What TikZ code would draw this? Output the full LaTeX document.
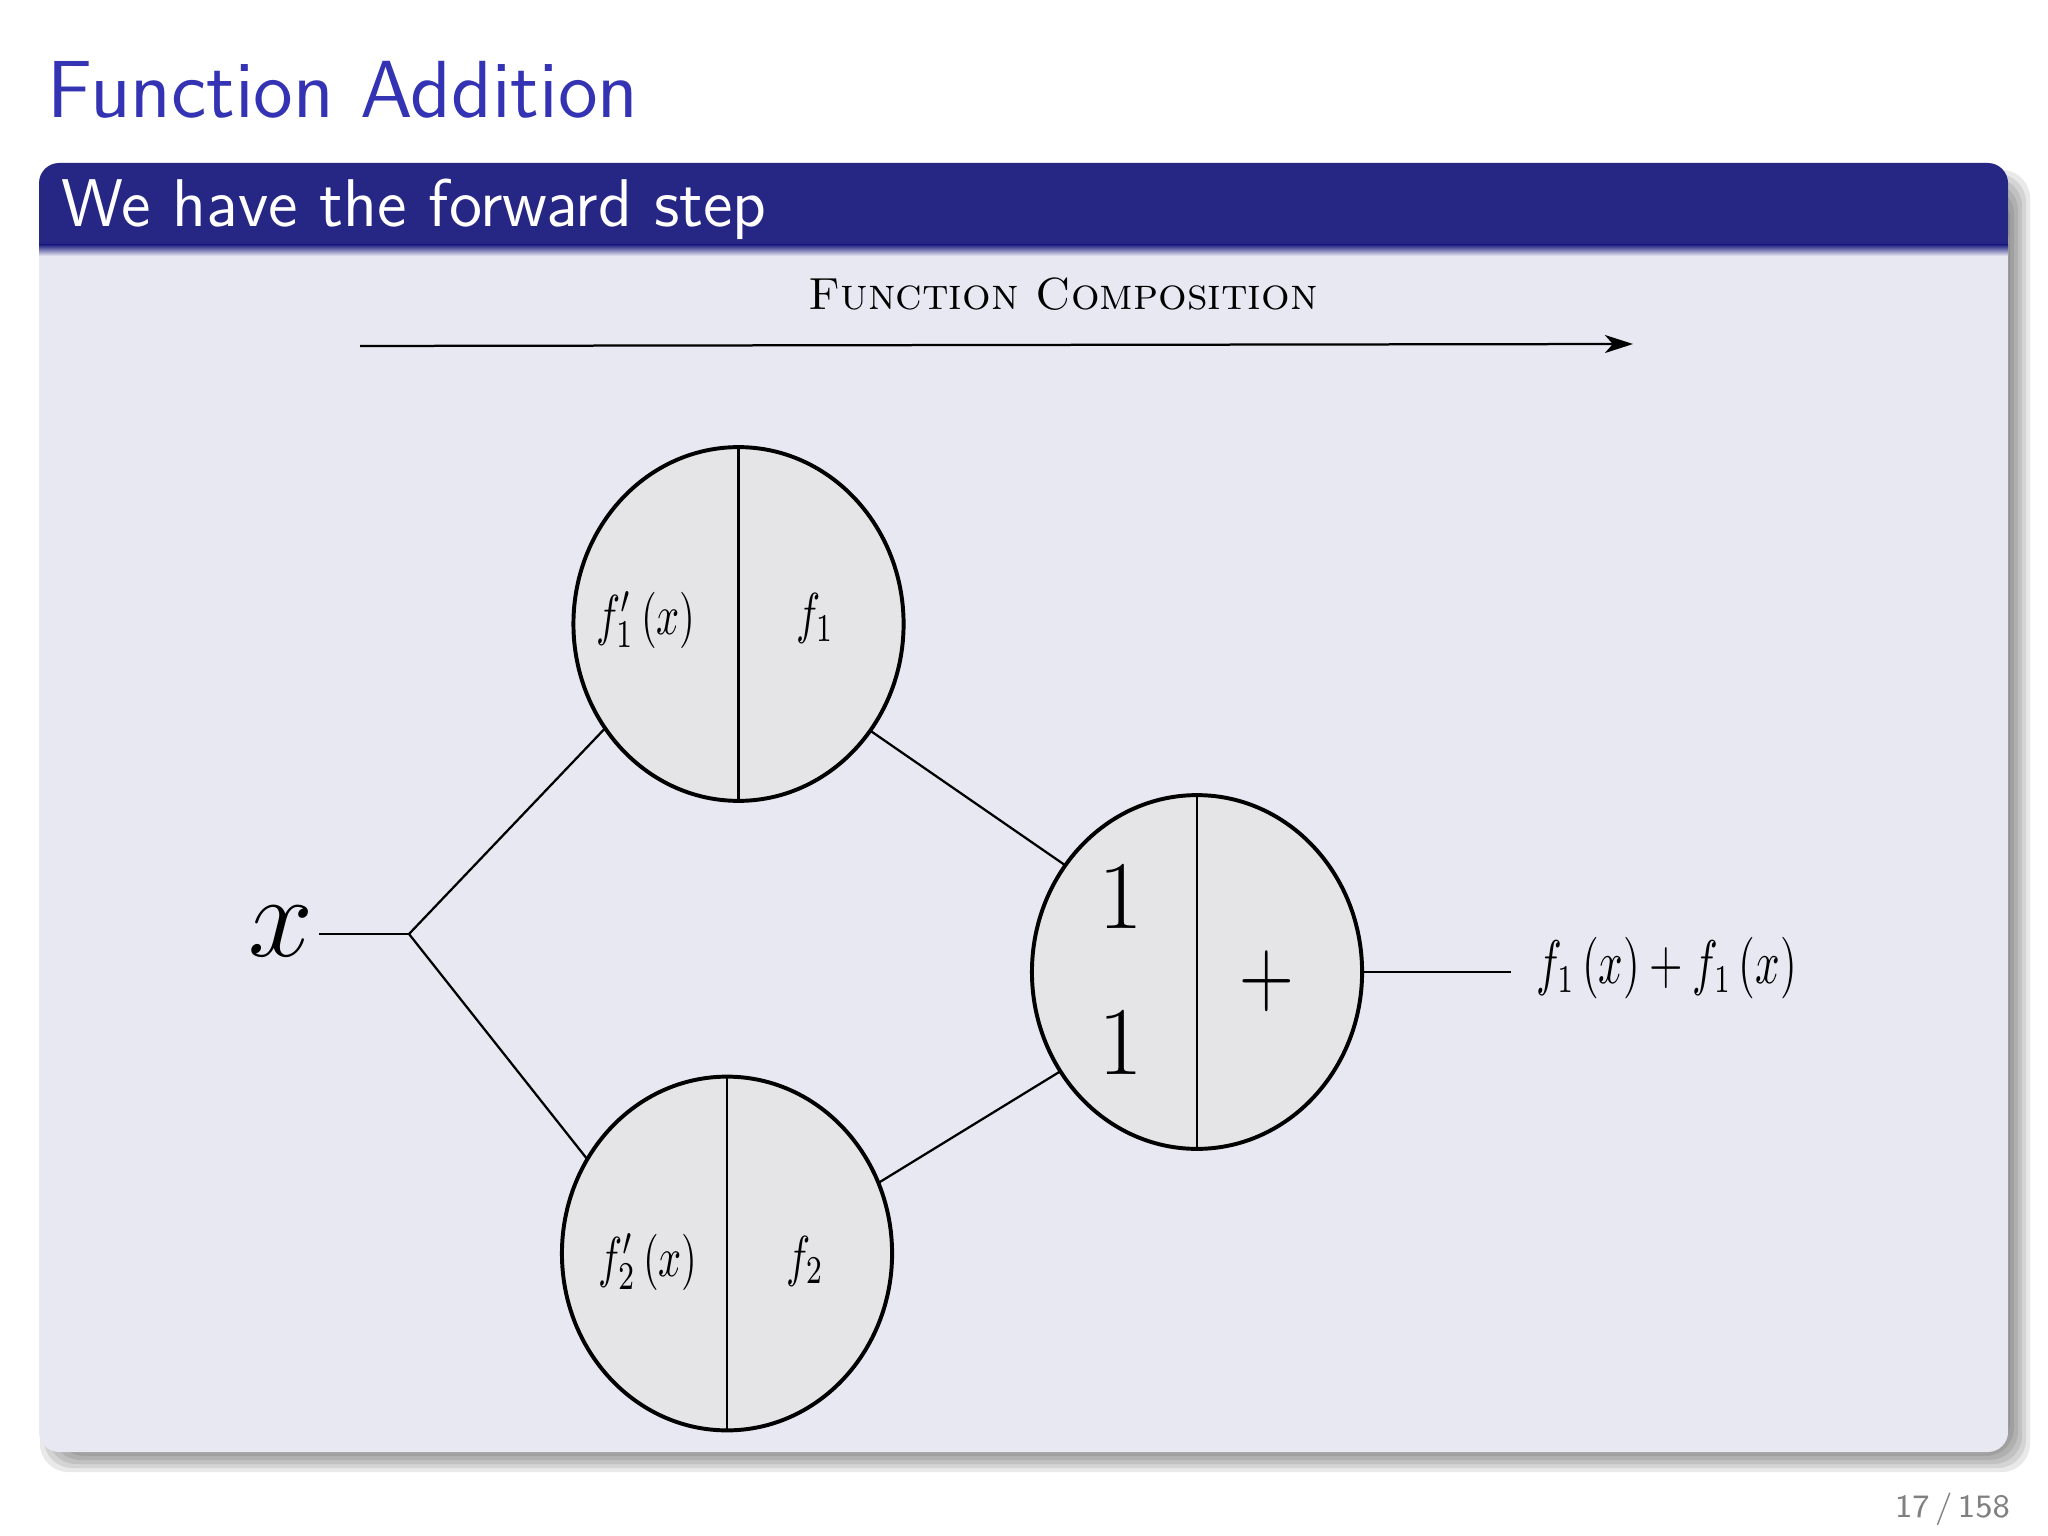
\documentclass[tikz,border=0pt]{standalone}
\usepackage{graphicx}
\usetikzlibrary{shapes.geometric,arrows.meta,calc}
\definecolor{titleblue}{RGB}{51,51,179}
\definecolor{hdrblue}{RGB}{38,38,133}
\definecolor{bodybg}{RGB}{232,232,242}
\definecolor{circfill}{RGB}{229,229,231}
\definecolor{pagegray}{RGB}{128,128,128}
\newcommand{\sqz}[2]{\scalebox{#1}[1]{#2}}
\begin{document}
\begin{tikzpicture}[x=0.1778pt,y=-0.1778pt,
  unit/.style={ellipse, draw=black, line width=0.7pt, fill=circfill,
    minimum width=58.7pt, minimum height=62.9pt, inner sep=0pt, outer sep=0pt},
  wire/.style={line width=0.4pt, black},
  divider/.style={line width=0.45pt, black},
  lbl/.style={inner sep=0pt, outer sep=0pt, anchor=base},
  smallmath/.style={font=\fontsize{10}{12}\selectfont},
  bigmath/.style={font=\fontsize{16}{19}\selectfont},
]
\useasboundingbox (0,0) rectangle (2048,1536);
\fill[white] (0,0) rectangle (2048,1536);

% frame title
\node[anchor=base west, inner sep=0pt, text=titleblue,
  font=\sffamily\fontsize{14.4}{17}\selectfont] (title) at (46,118) {Function Addition};

% block shadow
\foreach \r in {-12,-8,-4,0,4,8,12} {
  \fill[black, opacity=0.085, rounded corners=5pt]
    ({52-\r},{182-\r}) rectangle ({2018+\r},{1460+\r});
}
% block body and header
\fill[bodybg, rounded corners=3.6pt] (39,163) rectangle (2008,1452);
\fill[hdrblue, rounded corners=3.6pt] (39,163) rectangle (2008,256);
\fill[hdrblue] (39,200) rectangle (2008,245);
\shade[top color=hdrblue, bottom color=bodybg] (39,245) rectangle (2008,256);
\node[anchor=base west, inner sep=0pt, text=white,
  font=\sffamily\fontsize{12}{14}\selectfont] (blocktitle) at (60,227) {We have the forward step};

% function composition arrow
\node[anchor=base, inner sep=0pt, font=\fontsize{8}{10}\selectfont\scshape] (fc) at (1063,310) {Function Composition};
\coordinate (arrS) at (360,346);
\coordinate (arrE) at (1633,344);
\draw[wire, -{Stealth[length=5pt,width=3.2pt,inset=1.4pt]}] (arrS) -- (arrE);

% units
\node[unit] (top) at (738.5,624) {};
\node[unit] (bot) at (727,1253.5) {};
\node[unit] (sum) at (1197,972) {};
\draw[divider] (top.north) -- (top.south);
\draw[divider] (bot.north) -- (bot.south);
\draw[divider] (sum.north) -- (sum.south);

\node[lbl, smallmath] (topL) at (646,634) {\sqz{0.72}{$f'_1\left(x\right)$}};
\node[lbl, smallmath] (topR) at (815,633) {\sqz{0.72}{$f_1$}};
\node[lbl, smallmath] (botL) at (648,1276) {\sqz{0.72}{$f'_2\left(x\right)$}};
\node[lbl, smallmath] (botR) at (805,1275) {\sqz{0.72}{$f_2$}};
\node[lbl, bigmath] (oneA) at (1121,928) {$1$};
\node[lbl, bigmath] (oneB) at (1121,1074) {$1$};
\node[inner sep=0pt, bigmath] (plus) at (1267,981) {\sqz{0.78}{$+$}};

% input
\node[lbl, font=\fontsize{20}{24}\selectfont] (xin) at (281,956) {$x$};
\coordinate (br) at (409,934);
\draw[wire] (319,934) -- (br);
\draw[wire] (br) -- (top.218.6);
\draw[wire] (br) -- (bot.146.4);
\draw[wire] (top.321) -- (sum.141.6);
\draw[wire] (bot.25.4) -- (sum.216.7);
\coordinate (outE) at (1511,972);
\draw[wire] (sum.east) -- (outE);
\node[anchor=base west, inner sep=0pt, font=\fontsize{10.5}{12}\selectfont] (out) at (1535,983.5)
  {\sqz{0.70}{$f_1\left(x\right)+f_1\left(x\right)$}};

% page number
\node[anchor=base east, inner sep=0pt, text=pagegray,
  font=\sffamily\fontsize{5.8}{7}\selectfont] (pg) at (2011,1517) {17\,/\,158};
\end{tikzpicture}
\end{document}
